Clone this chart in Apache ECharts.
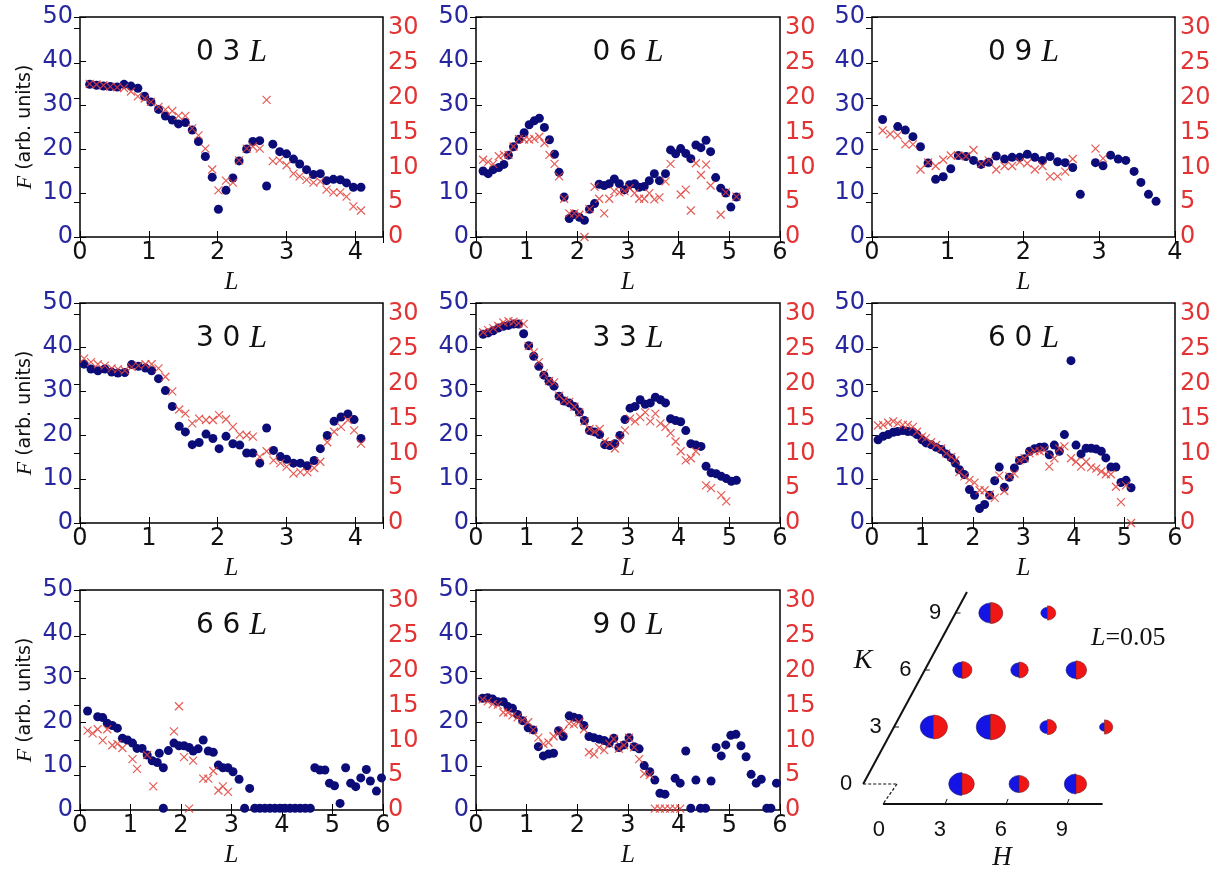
<!DOCTYPE html>
<html><head><meta charset="utf-8">
<script src="https://cdn.jsdelivr.net/npm/echarts@6/dist/echarts.min.js"></script>
<style>html,body{margin:0;padding:0;background:#fff}#c{width:1220px;height:872px}</style>
</head><body><div id="c"></div>
<script>
// ---------------- data ----------------
const L_03 = [0.14,0.24,0.34,0.44,0.54,0.64,0.74,0.84,0.94,1.03,1.14,1.24,1.34,1.43,1.53,1.63,1.72,1.82,1.92,2.01,2.12,2.22,2.31,2.42,2.51,2.61,2.71,2.8,2.9,3.0,3.1,3.19,3.29,3.39,3.49,3.58,3.68,3.78,3.87,3.97,4.08];
const F_03_blue = [34.7,34.5,34.3,34.2,34.1,34.7,34.3,33.8,32.0,30.7,29.0,27.5,26.6,25.7,26.0,24.3,21.7,18.3,13.6,6.3,10.6,13.4,17.3,20.0,21.7,21.9,11.6,21.1,19.4,18.9,17.7,16.6,15.3,14.2,14.4,12.8,13.1,13.0,12.3,11.3,11.3];
const F_03_red = [22.0,21.9,21.8,21.6,21.5,21.4,20.9,20.2,19.9,19.4,18.7,18.3,18.1,17.4,17.4,15.6,14.6,12.7,9.7,6.7,8.1,7.8,11.0,12.7,13.0,12.7,19.7,10.9,11.0,10.3,9.1,8.7,8.2,7.8,8.0,6.8,6.4,6.4,5.8,4.4,3.8];

const L_06 = [0.14,0.24,0.34,0.45,0.55,0.64,0.74,0.85,0.95,1.05,1.15,1.25,1.35,1.45,1.55,1.64,1.74,1.84,1.94,2.04,2.14,2.24,2.34,2.43,2.53,2.63,2.73,2.83,2.93,3.03,3.13,3.22,3.32,3.42,3.52,3.62,3.74,3.84,3.94,4.04,4.14,4.24,4.34,4.44,4.54,4.63,4.73,4.83,4.93,5.03,5.14];
const F_06_blue = [15.0,14.4,15.3,15.8,16.5,18.6,20.5,22.2,23.7,25.5,26.4,27.0,24.9,22.1,18.8,14.7,9.1,4.2,5.1,4.5,3.8,6.3,7.6,12.0,11.7,12.1,13.2,12.1,10.7,11.9,12.1,11.3,11.5,12.8,14.4,12.8,14.4,19.8,18.9,20.1,19.0,17.8,20.9,20.3,22.0,19.4,13.5,11.1,10.0,6.8,9.1];
const F_06_red = [11.1,10.8,10.5,11.6,11.8,11.8,13.0,14.1,14.0,14.0,14.1,14.4,13.5,11.8,10.5,8.7,5.5,3.4,3.4,3.2,0.0,4.0,7.2,5.5,3.4,5.5,6.6,6.4,6.6,7.0,6.3,5.5,5.5,6.3,5.4,5.7,8.0,10.5,null,6.1,6.8,3.8,10.6,8.9,10.4,7.4,null,3.2,6.4,null,5.8];

const L_09 = [0.14,0.24,0.34,0.44,0.54,0.64,0.74,0.84,0.94,1.04,1.14,1.24,1.34,1.44,1.54,1.64,1.75,1.85,1.95,2.05,2.15,2.25,2.35,2.45,2.55,2.65,2.75,2.95,3.05,3.15,3.25,3.35,3.46,3.55,3.65,3.75];
const F_09_blue = [26.7,null,25.1,24.3,22.8,20.5,16.8,13.1,13.7,15.5,18.5,18.3,17.4,16.5,17.0,18.4,17.7,18.1,18.1,18.8,18.1,17.4,18.3,17.1,16.9,15.8,9.7,16.9,16.2,18.6,17.7,17.4,14.9,12.4,9.7,8.1];
const F_09_red = [15.3,14.8,14.6,13.3,13.3,9.7,10.7,10.2,11.1,11.7,11.7,11.6,12.5,10.5,11.0,9.7,10.2,10.2,10.8,10.6,9.7,10.2,8.7,8.7,9.4,11.2,null,12.7,11.3,null,null,null,null,null,null,null];

const L_30 = [0.06,0.16,0.26,0.36,0.46,0.55,0.65,0.75,0.85,0.95,1.04,1.14,1.24,1.34,1.44,1.53,1.63,1.73,1.83,1.93,2.02,2.12,2.22,2.32,2.42,2.51,2.61,2.71,2.81,2.91,3.0,3.1,3.2,3.3,3.4,3.49,3.59,3.69,3.79,3.89,3.98,4.08];
const F_30_blue = [36.1,35.0,34.6,35.0,34.3,34.1,34.2,36.0,35.6,35.2,34.6,32.8,30.1,26.5,22.0,20.7,17.8,18.3,20.2,19.2,16.9,19.7,18.0,17.7,15.9,15.9,13.6,21.6,16.5,15.1,14.5,13.6,13.6,13.0,14.2,16.9,19.9,23.1,24.1,24.8,23.5,19.2];
const F_30_red = [23.6,23.1,22.8,22.6,22.2,22.1,21.9,22.4,22.6,22.8,22.8,22.2,21.0,18.9,16.3,15.7,14.3,15.0,14.8,14.8,15.5,14.9,13.8,12.7,12.6,12.4,9.5,10.3,9.0,8.6,8.1,7.1,7.3,7.3,7.9,8.8,11.6,13.1,13.8,14.8,13.3,11.4];

const L_33 = [0.14,0.24,0.34,0.44,0.54,0.64,0.74,0.84,0.94,1.04,1.14,1.24,1.34,1.44,1.54,1.64,1.74,1.84,1.94,2.04,2.14,2.24,2.34,2.44,2.54,2.64,2.74,2.84,2.94,3.04,3.14,3.24,3.34,3.44,3.54,3.64,3.74,3.84,3.94,4.04,4.14,4.24,4.34,4.44,4.54,4.64,4.74,4.84,4.94,5.04,5.14];
const F_33_blue = [42.9,43.2,43.7,44.3,44.7,44.9,45.2,45.2,43.0,40.3,37.9,35.6,33.6,32.2,31.1,28.8,27.7,27.3,26.5,25.2,23.3,21.0,20.7,20.1,17.8,17.6,18.0,19.9,23.5,26.1,26.5,28.0,27.0,27.3,28.6,28.0,27.3,23.7,23.3,23.0,21.0,18.0,17.7,17.4,12.9,11.4,11.2,10.6,10.1,9.5,9.7];
const F_33_red = [27.4,27.7,28.0,28.3,28.8,29.0,28.9,28.7,28.6,25.4,24.5,23.1,21.5,20.4,20.2,18.3,17.6,17.4,16.7,15.9,14.6,13.5,13.1,13.5,11.7,11.4,10.7,11.9,13.3,15.0,14.6,15.2,15.9,14.6,15.7,14.3,13.8,12.9,11.7,10.3,9.0,9.3,10.3,null,5.4,5.0,null,4.0,3.1,null,null];

const L_60 = [0.12,0.22,0.32,0.42,0.51,0.61,0.71,0.81,0.89,0.99,1.07,1.17,1.27,1.37,1.47,1.57,1.65,1.73,1.83,1.93,2.03,2.13,2.23,2.33,2.43,2.52,2.62,2.72,2.82,2.92,3.02,3.12,3.22,3.32,3.41,3.51,3.61,3.71,3.81,3.94,4.04,4.14,4.24,4.34,4.44,4.54,4.63,4.73,4.83,4.93,5.03,5.13];
const F_60_blue = [18.9,19.7,20.1,20.6,20.8,21.0,20.8,20.7,20.1,18.9,18.2,17.8,17.2,16.7,15.7,14.8,13.6,12.1,11.0,7.6,6.3,3.3,4.2,6.3,9.6,12.7,8.1,10.4,12.5,14.2,14.6,16.3,16.9,17.2,17.3,15.5,17.7,16.3,20.1,36.9,17.7,15.7,17.0,17.0,16.8,16.3,14.8,12.7,12.7,9.2,9.7,8.0];
const F_60_red = [14.0,14.1,14.4,14.6,14.3,14.1,14.1,13.8,13.1,12.4,12.2,11.6,11.2,10.7,10.0,9.5,9.0,7.3,6.7,6.2,5.8,4.7,4.7,4.1,3.6,6.8,4.6,6.7,7.1,9.0,9.3,10.0,10.3,10.3,10.5,8.1,9.3,10.7,11.0,9.3,8.8,8.1,8.8,8.0,7.8,7.4,7.0,7.0,5.2,3.0,5.4,0.0];

const L_66_blue = [0.15,0.35,0.45,0.54,0.64,0.74,0.84,0.94,1.04,1.13,1.23,1.33,1.43,1.53,1.57,1.65,1.65,1.75,1.86,1.96,2.06,2.16,2.24,2.34,2.44,2.54,2.64,2.74,2.83,2.93,3.03,3.15,3.26,3.36,3.46,3.56,3.66,3.76,3.86,3.96,4.06,4.16,4.26,4.36,4.46,4.56,4.65,4.75,4.85,4.94,5.04,5.15,5.26,5.36,5.46,5.56,5.67,5.75,5.87,5.97];
const F_66_blue = [22.5,21.2,21.0,19.7,19.2,18.6,16.3,15.9,15.2,14.0,14.0,12.5,11.2,10.8,12.9,9.6,0.4,13.5,15.2,14.6,14.6,14.2,13.4,13.9,15.9,13.4,13.1,10.2,9.6,9.6,8.7,7.0,0.4,4.9,0.4,0.4,0.4,0.4,0.4,0.4,0.4,0.4,0.4,0.4,0.4,0.4,9.6,9.1,9.1,6.1,5.5,1.5,9.6,6.1,5.3,7.3,9.2,6.6,4.3,7.3];
const L_66_red = [0.15,0.25,0.35,0.45,0.54,0.64,0.74,0.84,1.04,1.13,1.33,1.45,1.86,1.96,2.06,2.16,2.24,2.44,2.54,2.64,2.74,2.83,2.93];
const F_66_red = [11.4,11.0,11.6,10.0,11.6,9.3,9.5,8.9,7.3,5.9,7.9,3.4,11.3,14.9,7.6,0.2,7.1,4.5,4.5,5.6,2.8,3.4,2.6];

const L_90_blue = [0.13,0.23,0.33,0.43,0.54,0.63,0.72,0.82,0.92,1.03,1.13,1.23,1.33,1.43,1.53,1.63,1.72,1.84,1.93,2.03,2.13,2.23,2.33,2.43,2.53,2.63,2.72,2.82,2.92,3.02,3.12,3.22,3.32,3.43,3.53,3.63,3.73,3.93,4.03,4.14,4.24,4.34,4.43,4.53,4.64,4.74,4.84,4.93,5.03,5.13,5.23,5.33,5.43,5.53,5.63,5.74,5.82,5.93];
const F_90_blue = [25.4,25.5,25.2,24.6,24.6,23.5,23.1,21.7,20.3,18.7,18.2,14.4,12.3,12.7,12.9,18.0,16.7,21.4,21.1,20.8,19.2,16.7,16.4,16.1,15.8,15.2,16.3,14.2,14.8,16.4,14.4,13.9,10.1,8.7,6.8,3.8,3.6,7.2,6.1,13.4,0.4,6.8,0.4,0.4,6.6,14.2,12.3,14.8,17.0,17.2,14.6,12.1,8.1,6.1,7.0,0.4,0.4,6.1];
const L_90_red = [0.13,0.23,0.33,0.43,0.54,0.63,0.72,0.82,0.92,1.03,1.13,1.23,1.33,1.43,1.53,1.63,1.72,1.84,1.93,2.03,2.13,2.23,2.33,2.43,2.53,2.63,2.72,2.82,2.92,3.02,3.12,3.22,3.32,3.43,3.53,3.63,3.73,3.83,3.93,4.03];
const F_90_red = [15.9,15.6,15.2,15.1,14.0,14.0,13.6,13.3,12.9,12.6,11.5,10.4,9.5,9.7,10.6,11.0,11.4,12.4,12.3,12.6,11.6,8.3,8.0,9.0,8.6,9.5,10.2,8.8,9.3,10.4,9.0,7.3,5.2,5.0,0.2,0.2,0.2,0.2,0.2,0.2];

const panelHK = [['0','3'],['0','6'],['0','9'],['3','0'],['3','3'],['6','0'],['6','6'],['9','0']];
const panelLmax = [4.4, 6, 4, 4.4, 6, 6, 6, 6];
const leftTicksMax = 50, rightTicksMax = 31.6;

// schematic (H K) reflections at L = 0.05
const spotH = [3,6,9,0,3,6,9,0,3,6,0,3];
const spotK = [0,0,0,3,3,3,3,6,6,6,9,9];
const spotF_blue = [33.4,18.9,25.9,33.4,38.7,11.2,4.7,16.3,13.0,18.9,25.9,8.5];
const spotF_red  = [28.6,18.9,21.6,37.0,42.5,15.3,13.0,18.9,16.3,21.6,28.6,13.0];
const schemTicks = [0,3,6,9];

// ---------------- layout / styles ----------------
const colLeft = [80, 476, 872], colWidth = [303, 304, 303];
const rowTop = [17, 303, 590], rowH = 220;
const BLUE = '#0c0c78', RED = '#e0403a', LBLUE = '#2626a0', LRED = '#e23434';
const SANS = 'DejaVu Sans', SERIF = 'Liberation Serif';

const panelData = [
  [L_03, F_03_blue, L_03, F_03_red],
  [L_06, F_06_blue, L_06, F_06_red],
  [L_09, F_09_blue, L_09, F_09_red],
  [L_30, F_30_blue, L_30, F_30_red],
  [L_33, F_33_blue, L_33, F_33_red],
  [L_60, F_60_blue, L_60, F_60_red],
  [L_66_blue, F_66_blue, L_66_red, F_66_red],
  [L_90_blue, F_90_blue, L_90_red, F_90_red]
];
const pairs = (xs, ys) => xs.map((x, j) => [x, ys[j]]).filter(d => d[1] != null);

const grids = [], xAxes = [], yAxes = [], series = [], titles = [];
const tickStyle = {inside: true, length: 6, lineStyle: {color: '#000', width: 1}};
panelData.forEach((pd, i) => {
  const r = Math.floor(i / 3), c = i % 3;
  grids.push({left: colLeft[c], top: rowTop[r], width: colWidth[c], height: rowH,
    show: true, borderColor: '#000', borderWidth: 1.5, backgroundColor: '#fff',
    containLabel: false, outerBoundsMode: 'none'});
  xAxes.push({type: 'value', gridIndex: i, position: 'bottom', min: 0, max: panelLmax[i], interval: 1,
    name: '{i|L}', nameLocation: 'middle', nameGap: 33,
    nameTextStyle: {rich: {i: {fontFamily: SERIF, fontStyle: 'italic', fontSize: 25, color: '#111'}}},
    axisLine: {show: false}, axisTick: tickStyle, splitLine: {show: false},
    axisLabel: {fontFamily: SANS, fontSize: 24, color: '#111', margin: 4,
      formatter: v => Math.abs(v - Math.round(v)) < 1e-9 ? String(Math.round(v)) : ''}});
  xAxes.push({type: 'value', gridIndex: i, position: 'top', min: 0, max: panelLmax[i], interval: 1,
    axisLine: {show: false}, axisTick: tickStyle, axisLabel: {show: false}, splitLine: {show: false}});
  const yl = {type: 'value', gridIndex: i, position: 'left', min: 0, max: leftTicksMax, interval: 10,
    axisLine: {show: false}, axisTick: tickStyle, splitLine: {show: false},
    axisLabel: {fontFamily: SANS, fontSize: 24, color: LBLUE, margin: 7}};
  if (c === 0) {
    yl.name = '{i|F} (arb. units)';
    yl.nameLocation = 'middle';
    yl.nameGap = 44;
    yl.nameTextStyle = {fontFamily: SANS, fontSize: 19, color: '#111',
      rich: {i: {fontFamily: SERIF, fontStyle: 'italic', fontSize: 22, color: '#111'}}};
  }
  yAxes.push(yl);
  yAxes.push({type: 'value', gridIndex: i, position: 'right', min: 0, max: rightTicksMax, interval: 5,
    axisLine: {show: false}, axisTick: tickStyle, splitLine: {show: false},
    axisLabel: {fontFamily: SANS, fontSize: 24, color: LRED, margin: 5,
      formatter: v => Math.abs(v % 5) < 1e-9 ? String(v) : ''}});
  series.push({type: 'scatter', xAxisIndex: 2 * i, yAxisIndex: 2 * i, data: pairs(pd[0], pd[1]),
    symbol: 'circle', symbolSize: 9, itemStyle: {color: BLUE, opacity: 1}, silent: true, z: 2});
  series.push({type: 'scatter', xAxisIndex: 2 * i, yAxisIndex: 2 * i + 1, data: pairs(pd[2], pd[3]),
    symbol: 'path://M0,0L10,10M10,0L0,10', symbolSize: 8,
    itemStyle: {color: 'none', borderColor: RED, borderWidth: 1.2, opacity: 0.85}, silent: true, z: 3});
  titles.push({text: panelHK[i][0] + ' ' + panelHK[i][1] + ' {i|L}',
    left: colLeft[c] + colWidth[c] / 2, top: rowTop[r] + 20, textAlign: 'center', padding: 0,
    textStyle: {fontFamily: SANS, fontSize: 28, fontWeight: 'normal', color: '#111',
      rich: {i: {fontFamily: SERIF, fontStyle: 'italic', fontSize: 32, color: '#111'}}}});
});

// schematic panel: hidden cartesian grid, oblique (hexagonal) lattice u = H + K/2
grids.push({left: 829, top: 575, width: 304, height: 266, show: false, outerBoundsMode: 'none'});
xAxes.push({type: 'value', gridIndex: 8, min: -4, max: 12, show: false});
yAxes.push({type: 'value', gridIndex: 8, min: -3, max: 11, show: false});
const SI = 16;
series.push({type: 'custom', xAxisIndex: SI, yAxisIndex: SI, silent: true, z: 2,
  data: spotH.map((h, j) => [h, spotK[j], spotF_blue[j], spotF_red[j]]),
  renderItem(params, api) {
    const H = api.value(0), K = api.value(1);
    const pt = api.coord([H + K / 2, K]);
    const rb = 2.3 * Math.sqrt(api.value(2)), rr = 2.3 * Math.sqrt(api.value(3));
    return {type: 'group', x: pt[0], y: pt[1], scaleY: 0.86, children: [
      {type: 'sector', shape: {cx: 0, cy: 0, r0: 0, r: rb, startAngle: Math.PI / 2, endAngle: Math.PI * 1.5},
        style: {fill: '#1414e4', stroke: '#20206a', lineWidth: 0.6}},
      {type: 'sector', shape: {cx: 0, cy: 0, r0: 0, r: rr, startAngle: -Math.PI / 2, endAngle: Math.PI / 2},
        style: {fill: '#f01616', stroke: '#6a2020', lineWidth: 0.6}}
    ]};
  }});
series.push({type: 'custom', xAxisIndex: SI, yAxisIndex: SI, silent: true, z: 1,
  data: [[0, 0]],
  renderItem(params, api) {
    const Q = (u, K) => api.coord([u, K]);
    const ch = [];
    const line = (a, b, w, dash) => ch.push({type: 'line', shape: {x1: a[0], y1: a[1], x2: b[0], y2: b[1]},
      style: {stroke: '#111', lineWidth: w, lineDash: dash || null}});
    const txt = (p, s, font, align, rich) => ch.push({type: 'text', x: p[0], y: p[1],
      style: {text: s, fill: '#111', font: font, align: align || 'center', verticalAlign: 'middle', rich: rich}});
    // K axis (slanted)
    line(Q(-2.2, 0), Q(3.26, 10.1), 2);
    schemTicks.forEach(t => {
      const a = Q(-2.2 + 0.54 * t, t);
      if (t > 0) line(a, [a[0] + 5, a[1]], 1);
      txt(Q(-3.1 + 0.52 * t, t), String(t), '22px "Liberation Sans"');
    });
    // H axis (front)
    line(Q(-1.16, -1.05), Q(10.4, -1.05), 2);
    schemTicks.forEach(t => {
      const a = Q(-1.1 + 1.07 * t, -1.05);
      if (t > 0) line(a, [a[0] + 2, a[1] - 5], 1);
      txt(Q(-1.37 + 1.07 * t, -2.42), String(t), '22px "Liberation Sans"');
    });
    // dashed connector near origin
    line(Q(-2.2, 0), Q(-0.42, 0), 1.2, [3, 2]);
    line(Q(-0.42, 0), Q(-1.16, -1.05), 1.2, [3, 2]);
    // axis names and annotation
    txt(Q(-2.2, 6.5), 'K', 'italic 28px "Liberation Serif"');
    txt(Q(5.1, -3.9), 'H', 'italic 27px "Liberation Serif"');
    txt(Q(11.75, 7.7), '{i|L}=0.05', '26px "Liberation Serif"', 'center',
      {i: {fontFamily: 'Liberation Serif', fontStyle: 'italic', fontSize: 26, fill: '#111'}});
    return {type: 'group', children: ch};
  }});

const chart = echarts.init(document.getElementById('c'), null, {renderer: 'canvas'});
chart.setOption({
  animation: false,
  backgroundColor: '#fff',
  title: titles,
  grid: grids,
  xAxis: xAxes,
  yAxis: yAxes,
  series: series
});
</script></body></html>
